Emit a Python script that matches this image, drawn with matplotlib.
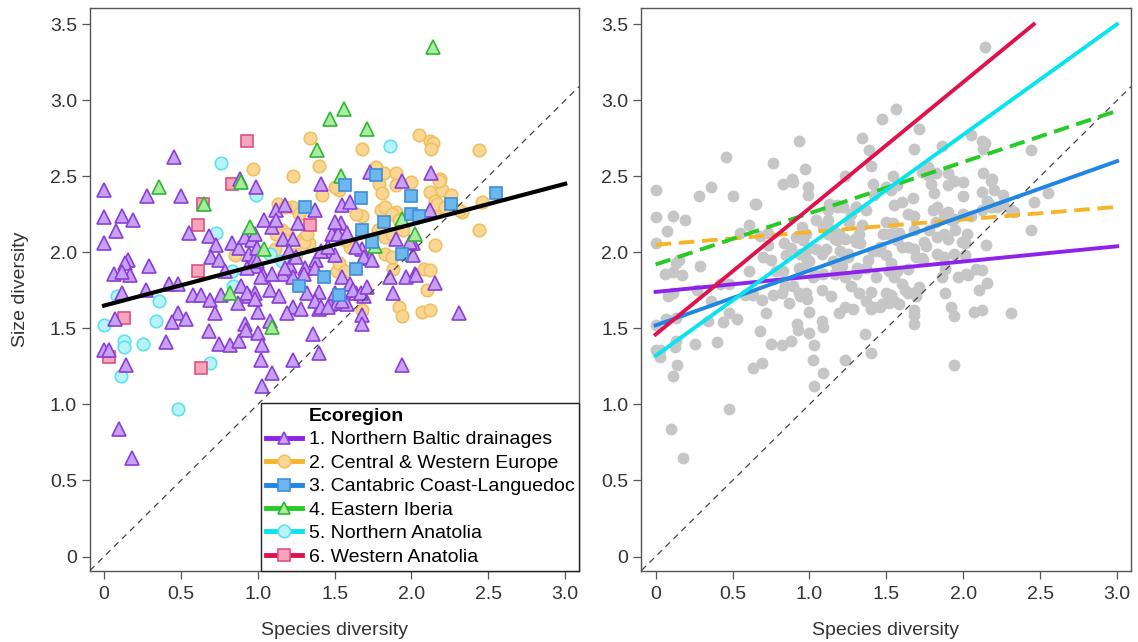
import numpy as np
import matplotlib
matplotlib.use("Agg")
import matplotlib.pyplot as plt
from matplotlib.lines import Line2D

plt.rcParams["font.family"] = ["Liberation Sans", "DejaVu Sans"]

# ecoregion names and styles
regions = ["1. Northern Baltic drainages", "2. Central & Western Europe",
           "3. Cantabric Coast-Languedoc", "4. Eastern Iberia",
           "5. Northern Anatolia", "6. Western Anatolia"]
markers = ["^", "o", "s", "^", "o", "s"]
marker_sizes = [9.5, 9, 8.5, 9.5, 9, 8.5]
line_colors = ["#8E22EC", "#F6B428", "#1F86E3", "#25CC25", "#08E4EE", "#E0124C"]
face_colors = ["#C8A2F2", "#F9D792", "#6CB8EE", "#A9EBA1", "#B7F3F8", "#F7A5BD"]
edge_colors = ["#8A3DD8", "#F0C064", "#3D8ED5", "#2DB82D", "#60E2EC", "#E0507F"]

# species diversity (x) and size diversity (y) per ecoregion
baltic_x = [0.455, 0.0, 0.28, 0.5, 0.0, 0.115, 0.19, 0.077, 0.0, 0.55, 0.68, 0.73, 0.835, 0.88,
            0.695, 0.75, 0.154, 0.133, 0.064, 0.17, 0.115, 0.29, 0.42, 0.48, 0.58, 0.63, 0.69,
            0.76, 0.27, 0.115, 0.915, 0.96, 0.98, 0.94, 0.98, 0.89, 0.94, 0.98, 0.87, 0.785,
            0.07, 0.48, 0.44, 0.53, 0.72, 0.40, 0.68, 0.75, 0.82, 0.88, 0.92, 0.925, 0.0, 0.03,
            0.14, 0.10, 0.18, 1.0, 1.23, 1.28, 1.19, 1.40, 1.47, 1.515, 1.58, 1.08, 1.0, 1.03,
            1.02, 1.09, 1.03, 1.36, 1.40, 1.23, 1.68, 1.68, 1.94, 2.31, 2.13, 2.12, 2.01, 2.01,
            2.02, 2.155, 1.73, 1.94, 0.99, 1.41, 1.55, 1.60, 1.37, 1.12, 1.18, 1.04, 1.09, 1.26,
            1.54, 1.165, 1.23, 1.48, 1.52, 1.58, 1.90, 1.99, 1.68, 1.73, 1.45, 1.50, 1.38, 1.31,
            1.21, 1.036, 0.98, 1.165, 1.23, 1.55, 1.60, 1.86, 1.965, 2.03, 1.40, 1.08, 1.14, 1.64,
            1.69, 1.88, 0.885, 1.12, 1.50, 0.995, 0.995, 0.93, 1.20, 1.25, 1.02, 1.09, 1.18, 1.30,
            1.37, 1.41, 1.46, 1.64, 1.69, 1.74, 1.62, 1.67, 1.71, 1.50, 1.55, 1.32, 1.37, 0.93,
            0.985, 1.41, 1.46]
baltic_y = [2.63, 2.41, 2.37, 2.37, 2.23, 2.24, 2.21, 2.14, 2.06, 2.13, 2.105, 2.05, 2.06, 2.03,
            1.97, 1.95, 1.95, 1.93, 1.86, 1.85, 1.87, 1.91, 1.79, 1.79, 1.72, 1.72, 1.69, 1.72,
            1.75, 1.73, 2.10, 2.08, 2.12, 1.99, 1.96, 1.78, 1.71, 1.73, 1.67, 1.88, 1.56, 1.60,
            1.54, 1.56, 1.60, 1.41, 1.48, 1.40, 1.39, 1.42, 1.53, 1.49, 1.355, 1.355, 1.26, 0.84,
            0.65, 1.61, 1.64, 1.63, 1.60, 1.63, 1.66, 1.67, 1.66, 1.55, 1.47, 1.39, 1.29, 1.21,
            1.12, 1.46, 1.34, 1.29, 1.59, 1.53, 1.26, 1.60, 2.52, 2.28, 2.06, 1.98, 1.86, 1.80,
            2.53, 2.47, 2.43, 2.45, 2.31, 2.33, 2.28, 2.28, 2.31, 2.21, 2.17, 2.19, 2.19, 2.09,
            2.09, 2.12, 2.12, 2.13, 2.09, 2.07, 2.02, 1.96, 2.01, 1.98, 1.95, 1.90, 1.91, 1.85,
            1.91, 1.86, 1.84, 1.84, 1.79, 1.84, 1.84, 1.85, 1.74, 1.75, 1.71, 1.73, 1.71, 1.73,
            2.48, 2.21, 2.20, 2.03, 1.94, 1.90, 2.01, 1.97, 1.84, 1.86, 1.90, 1.86, 1.90, 2.01,
            2.035, 2.035, 1.97, 1.95, 1.75, 1.73, 1.77, 1.73, 1.68, 1.73, 1.68, 1.73, 1.695,
            1.64, 1.64]

europe_x = [0.97, 0.85, 1.68, 1.92, 1.94, 2.07, 2.12, 2.05, 2.12, 2.14, 2.13, 2.44, 2.185, 2.12,
            2.20, 2.26, 2.155, 2.18, 2.46, 2.33, 2.44, 2.15, 2.08, 2.12, 2.10, 2.0, 1.34, 1.68,
            1.40, 1.23, 1.42, 1.77, 1.82, 1.79, 1.81, 1.90, 1.90, 1.22, 1.68, 1.80, 1.90, 1.295,
            1.33, 1.60, 1.155, 1.515, 1.88, 1.19, 1.13, 1.18, 1.12, 1.18, 1.11, 1.25, 1.30, 1.53,
            1.50, 2.18, 2.165, 2.22, 2.31, 1.83, 1.875, 1.92, 1.64, 1.53, 1.57, 1.78, 1.83, 1.875,
            1.945, 1.83, 1.875, 1.53, 1.57, 1.30, 1.27, 1.32]
europe_y = [2.55, 1.98, 1.62, 1.64, 1.58, 1.61, 1.62, 2.77, 2.73, 2.72, 2.68, 2.675, 2.48, 2.40,
            2.41, 2.38, 2.34, 2.30, 2.33, 2.265, 2.15, 2.05, 1.89, 1.885, 1.75, 2.46, 2.75, 2.68,
            2.57, 2.50, 2.375, 2.56, 2.52, 2.45, 2.39, 2.52, 2.44, 2.30, 2.24, 2.28, 2.265, 2.09,
            2.06, 2.035, 2.15, 1.88, 1.89, 2.12, 2.32, 2.30, 2.12, 2.08, 2.02, 1.99, 2.07, 2.41,
            2.43, 2.47, 2.32, 2.30, 2.28, 2.30, 2.25, 2.21, 2.25, 2.12, 2.08, 2.145, 2.10, 2.12,
            2.145, 1.99, 1.97, 1.93, 1.88, 2.30, 2.25, 2.12]

cantabric_x = [2.55, 2.26, 2.0, 2.0, 2.05, 1.77, 1.57, 1.67, 1.305, 1.82, 1.68, 1.745, 1.94,
               1.64, 1.43, 1.27, 1.53]
cantabric_y = [2.39, 2.32, 2.37, 2.25, 2.24, 2.51, 2.445, 2.36, 2.30, 2.20, 2.145, 2.07, 1.99,
               1.89, 1.84, 1.78, 1.72]

iberia_x = [0.36, 0.89, 0.65, 0.95, 0.82, 1.56, 1.47, 1.71, 1.385, 1.54, 1.04, 2.025, 1.76, 1.94,
            1.09, 2.14]
iberia_y = [2.43, 2.46, 2.32, 2.17, 1.73, 2.94, 2.88, 2.81, 2.675, 2.50, 2.02, 2.12, 2.04, 2.22,
            1.51, 3.35]

n_anatolia_x = [0.76, 0.73, 0.99, 0.083, 0.36, 0.84, 0.0, 0.34, 0.13, 0.127, 0.256, 0.11, 0.69,
                0.48, 1.86, 1.08, 1.155, 0.83]
n_anatolia_y = [2.59, 2.13, 2.375, 1.71, 1.68, 1.78, 1.52, 1.55, 1.42, 1.38, 1.40, 1.19, 1.27,
                0.97, 2.70, 1.99, 1.94, 1.88]

w_anatolia_x = [0.93, 0.83, 0.645, 0.61, 0.61, 0.13, 0.03, 0.63, 1.34]
w_anatolia_y = [2.73, 2.45, 2.32, 2.18, 1.88, 1.57, 1.31, 1.24, 2.18]

xs = [baltic_x, europe_x, cantabric_x, iberia_x, n_anatolia_x, w_anatolia_x]
ys = [baltic_y, europe_y, cantabric_y, iberia_y, n_anatolia_y, w_anatolia_y]

# overall fit (left) and per-ecoregion fits (right): intercept, slope
overall_fit = (1.65, 0.267)
fit_intercepts = [1.74, 2.05, 1.52, 1.92, 1.32, 1.46]
fit_slopes = [0.10, 0.083, 0.36, 0.337, 0.727, 0.83]
fit_dashed = [False, True, False, True, False, False]

xticks = [0, 0.5, 1.0, 1.5, 2.0, 2.5, 3.0]
xtick_labels = ["0", "0.5", "1.0", "1.5", "2.0", "2.5", "3.0"]
yticks = [0, 0.5, 1.0, 1.5, 2.0, 2.5, 3.0, 3.5]
ytick_labels = ["0", "0.5", "1.0", "1.5", "2.0", "2.5", "3.0", "3.5"]

W, H = 1138, 642
fig = plt.figure(figsize=(W / 100, H / 100), dpi=100)
bottom = 1 - 570.5 / H
height = (570.5 - 8.3) / H
ax1 = fig.add_axes([89.5 / W, bottom, (579 - 89.5) / W, height])
ax2 = fig.add_axes([641 / W, bottom, (1131 - 641) / W, height])

fs = 14
for ax in (ax1, ax2):
    ax.set_xlim(-0.095, 3.09)
    ax.set_ylim(-0.092, 3.605)
    ax.set_xticks(xticks)
    ax.set_xticklabels(xtick_labels)
    ax.set_yticks(yticks)
    ax.set_yticklabels(ytick_labels)
    ax.tick_params(direction="out", length=6, width=0.9, color="#555555",
                   labelsize=fs, labelcolor="#333333")
    ax.tick_params(axis="x", pad=5)
    ax.tick_params(axis="y", pad=3)
    for sp in ax.spines.values():
        sp.set_color("#555555")
        sp.set_linewidth(1.0)
    ax.set_xlabel("Species diversity", fontsize=fs, color="#333333", labelpad=14)
    # 1:1 reference line
    ax.axline((0, 0), slope=1, color="#444444", lw=0.9, ls=(0, (5, 4)), zorder=4)

ax1.set_ylabel("Size diversity", fontsize=fs, color="#333333", labelpad=15)

# left panel: points by ecoregion
draw_order = [1, 4, 5, 0, 3, 2]
for i in draw_order:
    ax1.plot(xs[i], ys[i], ls="none", marker=markers[i], ms=marker_sizes[i],
             mfc=face_colors[i], mec=edge_colors[i], mew=1.2, zorder=3)

xfit = np.array([0.0, 3.0])
ax1.plot(xfit, overall_fit[0] + overall_fit[1] * xfit, color="black", lw=3, zorder=5)

handles = [Line2D([], [], ls="none", marker=None)]
for i in range(6):
    handles.append(Line2D([], [], color=line_colors[i], lw=3.5, marker=markers[i], ms=9,
                          mfc=face_colors[i], mec=edge_colors[i], mew=1.2))
leg = ax1.legend(handles, ["Ecoregion"] + regions, loc="lower right", bbox_to_anchor=(1.0, 0.0),
                 borderaxespad=0, fontsize=fs, frameon=True, fancybox=False, framealpha=1,
                 edgecolor="#222222", handlelength=1.85, handletextpad=0.35, labelspacing=0.3,
                 borderpad=0.25)
leg.get_frame().set_linewidth(1.0)
leg.set_zorder(10)
leg.get_texts()[0].set_fontweight("bold")

# right panel: all sites in gray, per-ecoregion fits
all_x = np.concatenate([np.asarray(v) for v in xs])
all_y = np.concatenate([np.asarray(v) for v in ys])
ax2.plot(all_x, all_y, ls="none", marker="o", ms=7.5, mfc="#C6C6C6", mec="#C6C6C6", zorder=3)

for i in range(6):
    a, b = fit_intercepts[i], fit_slopes[i]
    x_end = min(3.0, (3.5 - a) / b)
    xl = np.array([0.0, x_end])
    ax2.plot(xl, a + b * xl, color=line_colors[i], lw=2.8,
             ls=(0, (4, 2)) if fit_dashed[i] else "-", zorder=5)

fig.savefig("out.png", dpi=100)
